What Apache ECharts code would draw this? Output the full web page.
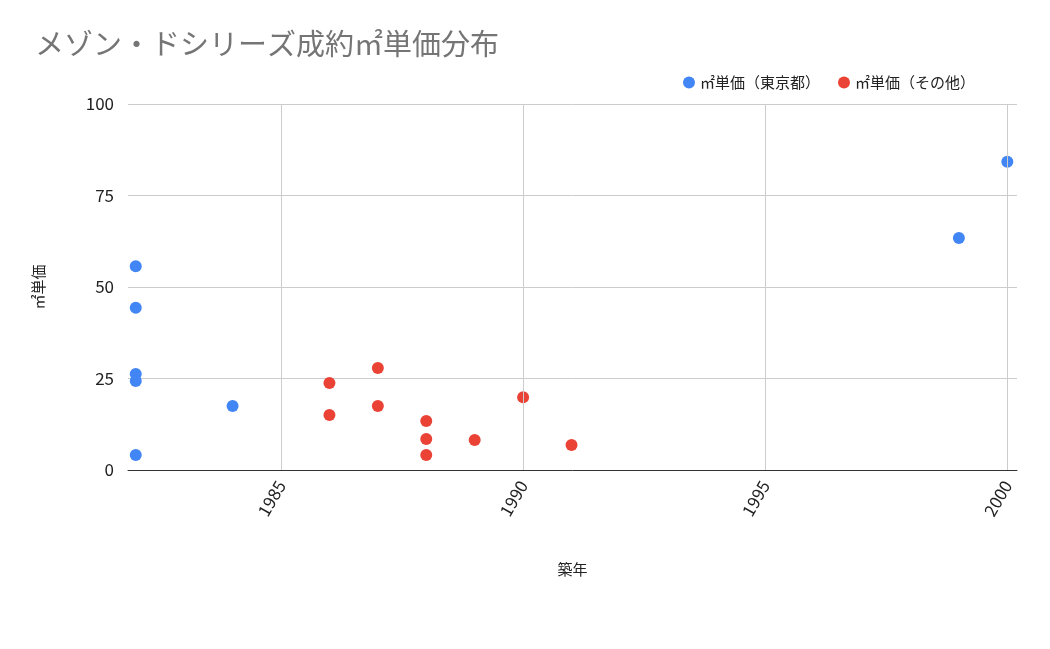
<!DOCTYPE html>
<html>
<head>
<meta charset="utf-8">
<script src="https://cdn.jsdelivr.net/npm/echarts@6/dist/echarts.min.js"></script>
<style>html,body{margin:0;padding:0;background:#fff}#main{width:1050px;height:649px}</style>
</head>
<body>
<div id="main"></div>
<script>
// data
const tokyoYears = [1982, 1982, 1982, 1982, 1982, 1984, 1999, 2000];
const tokyoPrices = [55.7, 44.3, 26.2, 24.3, 4.1, 17.5, 63.4, 84.2];
const otherYears = [1986, 1986, 1987, 1987, 1988, 1988, 1988, 1989, 1990, 1991];
const otherPrices = [23.8, 15.0, 27.9, 17.5, 13.4, 8.5, 4.1, 8.2, 19.9, 6.8];
const xTicks = [1985, 1990, 1995, 2000];

const font = '"Noto Sans CJK JP", "Noto Sans", sans-serif';
const chart = echarts.init(document.getElementById('main'));

chart.setOption({
  textStyle: { fontFamily: font },
  color: ['#4285f4', '#ea4335'],
  title: {
    text: 'メゾン・ドシリーズ成約㎡単価分布',
    left: 30, top: 24,
    textStyle: { color: '#757575', fontSize: 29, fontWeight: 'normal', fontFamily: font }
  },
  legend: {
    right: 70, top: 70,
    icon: 'circle', itemWidth: 12, itemHeight: 12, itemGap: 18,
    textStyle: { color: '#222', fontSize: 15 }
  },
  grid: { left: 128, right: 33, top: 104, bottom: 179 },
  xAxis: {
    type: 'value', min: 1981.84, max: 2000.2,
    name: '築年', nameLocation: 'middle', nameGap: 92,
    nameTextStyle: { color: '#222', fontSize: 15 },
    axisLine: { show: true, lineStyle: { color: '#333' } },
    axisTick: { show: false },
    splitLine: { show: false },
    axisLabel: { customValues: xTicks, rotate: 60, color: '#222', fontSize: 17, margin: 12,
      formatter: v => String(v) }
  },
  yAxis: {
    type: 'value', min: 0, max: 100, interval: 25,
    name: '㎡単価', nameLocation: 'middle', nameGap: 82,
    nameTextStyle: { color: '#222', fontSize: 15 },
    axisLine: { show: false }, axisTick: { show: false },
    axisLabel: { color: '#222', fontSize: 17, margin: 14 },
    splitLine: { lineStyle: { color: '#cccccc' } }
  },
  series: [
    {
      name: '㎡単価（東京都）', type: 'scatter', symbolSize: 12,
      itemStyle: { opacity: 1 },
      data: tokyoYears.map((y, i) => [y, tokyoPrices[i]]),
      markLine: {
        silent: true, symbol: 'none', label: { show: false },
        lineStyle: { color: '#cccccc', type: 'solid', width: 1 },
        data: xTicks.map(v => ({ xAxis: v }))
      },
      z: 3
    },
    {
      name: '㎡単価（その他）', type: 'scatter', symbolSize: 12,
      itemStyle: { opacity: 1 },
      data: otherYears.map((y, i) => [y, otherPrices[i]]),
      z: 3
    }
  ]
});
</script>
</body>
</html>
